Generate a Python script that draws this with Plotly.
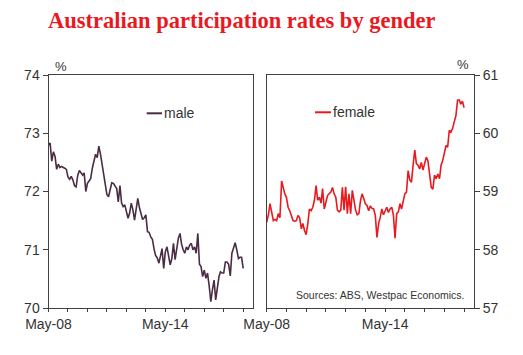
import pandas as pd
import plotly.graph_objects as go

# ---- data (monthly, May-2008 .. May-2018) ----
START = "2008-05-01"
N_MONTHS = 121

MALE = [
    72.80, 72.83, 72.52, 72.68, 72.60, 72.38, 72.47, 72.41, 72.43, 72.42,
    72.40, 72.38, 72.25, 72.21, 72.26, 72.20, 72.10, 72.08, 72.28, 72.36,
    72.32, 72.28, 72.32, 72.00, 72.14, 72.18, 72.22, 72.40, 72.50, 72.64,
    72.58, 72.78, 72.64, 72.45, 72.25, 72.08, 71.95, 71.91, 72.03, 72.15,
    72.14, 72.10, 72.05, 71.82, 72.10, 71.80, 71.74, 71.77, 71.66, 71.54,
    71.63, 71.80, 71.68, 71.51, 71.70, 71.88, 71.72, 71.60, 71.52, 71.55,
    71.60, 71.31, 71.30, 71.22, 71.18, 71.02, 70.90, 70.86, 70.77, 70.90,
    71.02, 70.68, 70.96, 71.05, 70.92, 70.74, 70.85, 71.11, 70.83, 71.00,
    71.20, 71.28, 71.10, 71.00, 70.94, 71.05, 71.00, 71.08, 71.11, 71.00,
    71.05, 70.94, 71.28, 70.75, 70.71, 70.54, 70.65, 70.51, 70.60, 70.38,
    70.11, 70.31, 70.48, 70.14, 70.37, 70.54, 70.62, 70.60, 70.60, 70.79,
    70.79, 70.75, 70.55, 70.94, 71.03, 71.12, 71.00, 70.85, 70.87, 70.87,
    70.68,
]

FEMALE = [
    58.47, 58.60, 58.79, 58.67, 58.50, 58.52, 58.50, 58.62, 58.55, 59.18,
    59.07, 58.96, 58.90, 58.73, 58.67, 58.58, 58.50, 58.49, 58.50, 58.59,
    58.55, 58.36, 58.45, 58.33, 58.26, 58.45, 58.70, 58.67, 58.73, 58.85,
    59.10, 58.85, 58.90, 58.80, 59.05, 58.70, 58.82, 58.93, 58.96, 58.99,
    59.07, 58.96, 58.90, 58.68, 58.65, 58.68, 59.07, 58.68, 59.08, 58.62,
    58.96, 58.62, 59.02, 58.85, 58.68, 58.60, 58.62, 58.85, 58.96, 58.88,
    58.79, 58.76, 58.67, 58.75, 58.71, 58.70, 58.59, 58.21, 58.45, 58.56,
    58.70, 58.60, 58.67, 58.73, 58.64, 58.70, 58.73, 58.60, 58.20, 58.62,
    58.65, 58.79, 58.70, 58.87, 58.96, 58.99, 59.36, 59.20, 59.16, 59.45,
    59.71, 59.48, 59.45, 59.39, 59.50, 59.37, 59.50, 59.59, 59.53, 59.28,
    59.07, 59.04, 59.28, 59.22, 59.30, 59.22, 59.45, 59.53, 59.68, 59.79,
    59.76, 60.05, 60.02, 60.08, 60.20, 60.30, 60.57, 60.57, 60.50, 60.55,
    60.44,
]

DATES = pd.date_range(START, periods=N_MONTHS, freq="MS")

TITLE = "Australian participation rates by gender"
SOURCE = "Sources: ABS, Westpac Economics."
LEFT_Y_TICKS = [70, 71, 72, 73, 74]
RIGHT_Y_TICKS = [57, 58, 59, 60, 61]

# ---- style ----
W, H = 523, 355
MALE_C = "#4B2C45"
FEMALE_C = "#E8191F"
AX_C = "#404040"
TXT_C = "#333333"
FONT = "Liberation Sans, Arial, sans-serif"

def px_x(p):
    return p / W

def px_y(p):
    return 1 - p / H

fig = go.Figure()
fig.add_trace(go.Scatter(x=DATES, y=MALE, mode="lines", name="male",
                         line=dict(color=MALE_C, width=1.6), xaxis="x", yaxis="y",
                         showlegend=False))
fig.add_trace(go.Scatter(x=DATES, y=FEMALE, mode="lines", name="female",
                         line=dict(color=FEMALE_C, width=1.6), xaxis="x2", yaxis="y2",
                         showlegend=False))

xrange = ["2008-05-01", "2018-11-01"]
xcommon = dict(
    type="date", range=xrange, tick0="2008-05-01", dtick="M72",
    tickformat="%b-%y", ticks="outside", ticklen=3, tickcolor=AX_C,
    showline=True, linecolor=AX_C, linewidth=1, mirror=True,
    showgrid=False, zeroline=False, automargin=False,
    tickfont=dict(family=FONT, size=14, color=TXT_C),
    minor=dict(ticks="outside", ticklen=3, tickcolor=AX_C, dtick="M12",
               tick0="2008-05-01", showgrid=False),
)
ycommon = dict(
    ticks="outside", ticklen=5, tickcolor=AX_C, dtick=1,
    showline=True, linecolor=AX_C, linewidth=1, mirror=True,
    showgrid=False, zeroline=False, automargin=False,
    tickfont=dict(family=FONT, size=14, color=TXT_C),
)

ydom = [px_y(308), px_y(75)]
fig.update_layout(
    template="none",
    width=W, height=H,
    margin=dict(l=0, r=0, t=0, b=0, pad=0),
    paper_bgcolor="white", plot_bgcolor="white",
    xaxis=dict(domain=[px_x(48.5), px_x(253)], anchor="y", **xcommon),
    yaxis=dict(domain=ydom, anchor="x", range=[70, 74], tickvals=LEFT_Y_TICKS, **ycommon),
    xaxis2=dict(domain=[px_x(266.7), px_x(474)], anchor="y2", **xcommon),
    yaxis2=dict(domain=ydom, anchor="x2", range=[57, 61], side="right",
                tickvals=RIGHT_Y_TICKS, **ycommon),
)

# title
fig.add_annotation(x=px_x(46), y=px_y(20), xref="paper", yref="paper",
                   text="<b>" + TITLE + "</b>", showarrow=False,
                   xanchor="left", yanchor="middle",
                   font=dict(family="Liberation Serif, Times New Roman, serif",
                             size=22.5, color=FEMALE_C))
# % labels
fig.add_annotation(x=px_x(60.5), y=px_y(67), xref="paper", yref="paper", text="%",
                   showarrow=False, xanchor="center", yanchor="middle",
                   font=dict(family=FONT, size=13, color=TXT_C))
fig.add_annotation(x=px_x(462.5), y=px_y(65), xref="paper", yref="paper", text="%",
                   showarrow=False, xanchor="center", yanchor="middle",
                   font=dict(family=FONT, size=13, color=TXT_C))
# legends
fig.add_shape(type="line", xref="paper", yref="paper",
              x0=px_x(146.7), x1=px_x(162), y0=px_y(113.3), y1=px_y(113.3),
              line=dict(color=MALE_C, width=2))
fig.add_annotation(x=px_x(161.5), y=px_y(113), xref="paper", yref="paper", text="male",
                   showarrow=False, xanchor="left", yanchor="middle",
                   font=dict(family=FONT, size=14, color=TXT_C))
fig.add_shape(type="line", xref="paper", yref="paper",
              x0=px_x(315), x1=px_x(331), y0=px_y(112.3), y1=px_y(112.3),
              line=dict(color=FEMALE_C, width=2))
fig.add_annotation(x=px_x(330.5), y=px_y(112), xref="paper", yref="paper", text="female",
                   showarrow=False, xanchor="left", yanchor="middle",
                   font=dict(family=FONT, size=14, color=TXT_C))
# source
fig.add_annotation(x=px_x(466), y=px_y(295), xref="paper", yref="paper", text=SOURCE,
                   showarrow=False, xanchor="right", yanchor="middle",
                   font=dict(family=FONT, size=10.5, color=TXT_C))

fig.write_html(
    "out.html",
    config={"displayModeBar": False},
    post_script="document.body.style.margin='0';document.body.style.padding='0';",
)
